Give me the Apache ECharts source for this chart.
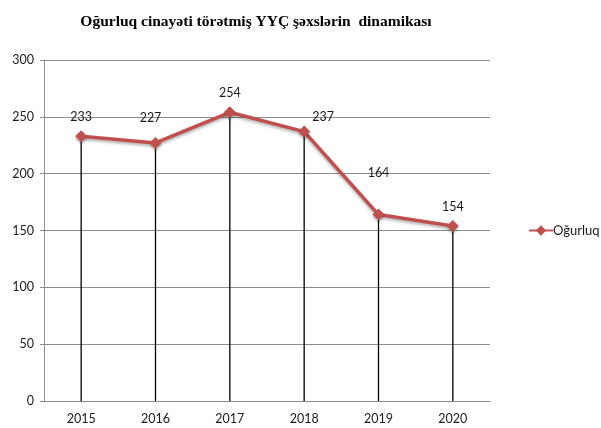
<!DOCTYPE html>
<html>
<head>
<meta charset="utf-8">
<script src="https://cdn.jsdelivr.net/npm/echarts@6/dist/echarts.min.js"></script>
<style>html,body{margin:0;padding:0;background:#fff;}#c{width:601px;height:428px;}</style>
</head>
<body>
<div id="c"></div>
<script>
var categories = ['2015', '2016', '2017', '2018', '2019', '2020'];
var values = [233, 227, 254, 237, 164, 154];
var seriesName = 'Oğurluq';
var titleText = 'Oğurluq cinayəti törətmiş YYÇ şəxslərin  dinamikası';

var labelOffsets = [[0, -19], [-5, -25], [0, -19], [19, -15], [0, -42], [0, -19]];

var chart = echarts.init(document.getElementById('c'));
var textColor = '#1a1a1a';
var font = 'Lato, "Open Sans", sans-serif';
chart.setOption({
  animation: false,
  backgroundColor: '#fff',
  title: {
    text: titleText,
    left: 251, top: 9, textAlign: 'center',
    textStyle: { fontFamily: '"Liberation Serif", serif', fontWeight: 'bold', fontSize: 15.5, color: '#000' }
  },
  legend: {
    data: [seriesName],
    left: 523, top: 219,
    itemWidth: 24, itemHeight: 13, itemGap: 2,
    textStyle: { fontFamily: font, fontSize: 13, color: textColor, padding: [0,0,0,-5] }
  },
  grid: { left: 44, right: 111, top: 60, bottom: 27 },
  xAxis: {
    type: 'category', data: categories, boundaryGap: true,
    axisLine: { lineStyle: { color: '#8c8c8c', width: 1 } },
    axisTick: { show: false },
    axisLabel: { color: textColor, fontFamily: font, fontSize: 12.5, margin: 11 }
  },
  yAxis: {
    type: 'value', min: 0, max: 300, interval: 50,
    axisLine: { show: true, lineStyle: { color: '#8c8c8c' } },
    axisTick: { show: true, length: 4, lineStyle: { color: '#8c8c8c' } },
    splitLine: { lineStyle: { color: '#8c8c8c' } },
    axisLabel: { color: textColor, fontFamily: font, fontSize: 12.5, margin: 10 }
  },
  series: [
    {
      name: 'drop', type: 'bar', data: values, barWidth: 1.3, z: 1,
      itemStyle: { color: '#000' }, silent: true
    },
    {
      name: seriesName, type: 'line', data: values.map(function (v, i) {
        return { value: v, label: { offset: labelOffsets[i] } };
      }), z: 3,
      symbol: 'diamond', symbolSize: 12,
      lineStyle: { color: '#c0504d', width: 3.5, shadowColor: 'rgba(0,0,0,0.3)', shadowBlur: 3, shadowOffsetY: 2 },
      itemStyle: { color: '#c0504d', shadowColor: 'rgba(0,0,0,0.3)', shadowBlur: 3, shadowOffsetY: 2 },
      label: { show: true, position: 'inside', color: textColor, fontFamily: font, fontSize: 12.5 }
    }
  ]
});
</script>
</body>
</html>
